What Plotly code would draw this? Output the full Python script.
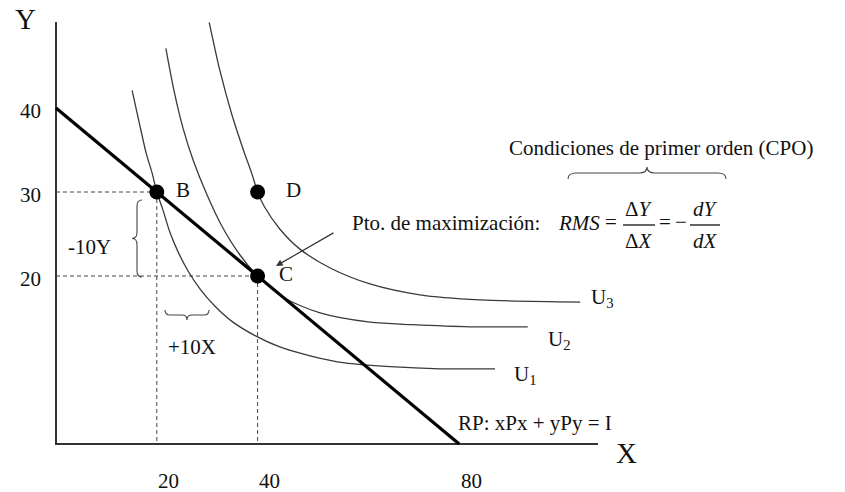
import plotly.graph_objects as go

# ---------------------------------------------------------------------------
# Data (units of good X and good Y)
# ---------------------------------------------------------------------------
# Budget line RP: xPx + yPy = I, drawn through its two intercepts
budget_x = [0, 80]
budget_y = [40, 0]

# Indifference curves U1 < U2 < U3
u1_x = [15.1, 16.5, 17.9, 19.05, 20.0, 21.2, 22.6, 24.2, 26.2, 28.6, 31.55, 34.9, 39.5,
        44.4, 50.4, 57.3, 66.3, 76.2, 87.1]
u1_y = [42.1, 38.3, 34.6, 32.3, 30.0, 27.9, 25.2, 22.9, 20.6, 18.45, 16.4, 14.6, 12.9,
        11.55, 10.5, 9.65, 9.2, 8.95, 8.95]

u2_x = [21.8, 23.4, 25.2, 27.2, 30.0, 32.9, 36.5, 40.0, 45.0, 52.4, 62.3, 70.8, 82.1, 93.6]
u2_y = [47.1, 42.1, 37.6, 33.8, 29.6, 25.95, 22.5, 20.0, 17.5, 15.6, 14.5, 14.2, 13.95, 13.95]

u3_x = [30.4, 32.5, 34.9, 37.3, 38.9, 40.0, 41.3, 44.4, 48.4, 54.4, 62.3, 72.2, 84.1, 104.0]
u3_y = [50.2, 44.5, 39.2, 34.8, 32.1, 30.0, 28.3, 25.6, 23.2, 20.95, 19.05, 17.75, 17.15, 16.9]

curve_names = ["U<sub>1</sub>", "U<sub>2</sub>", "U<sub>3</sub>"]

# Highlighted bundles
point_names = ["B", "C", "D"]
point_x = [20, 40, 40]
point_y = [30, 20, 30]

# Axis tick labels
x_ticks = [20, 40, 80]
y_ticks = [40, 30, 20]

# ---------------------------------------------------------------------------
# Canvas geometry: the plot fills the whole page, origin placed at (56, 444) px
# ---------------------------------------------------------------------------
W, H = 845, 492
OX, OY = 56, 444          # pixel position of the origin
SX, SY = 5.04, 8.4        # pixels per unit on x and y

X_RANGE = [-OX / SX, (W - OX) / SX]
Y_RANGE = [(OY - H) / SY, OY / SY]


def to_data(px, py):
    """Pixel position on the canvas -> data coordinates."""
    return (px - OX) / SX, (OY - py) / SY


FONT = "Liberation Serif, Times New Roman, serif"
INK = "#111111"
LINE = "#3a3a3a"

fig = go.Figure()

# Axes drawn as plain lines from the origin
x_end, _ = to_data(598, OY)
_, y_end = to_data(OX, 22)
fig.add_trace(go.Scatter(x=[0, 0, x_end], y=[y_end, 0, 0], mode="lines",
                         line=dict(color="#333333", width=2), hoverinfo="skip"))

# Dashed guide lines from bundles B and C to the axes
for i in (0, 1):
    px_, py_ = point_x[i], point_y[i]
    fig.add_trace(go.Scatter(x=[0, px_], y=[py_, py_], mode="lines",
                             line=dict(color="#444444", width=1, dash="4px,3px"),
                             hoverinfo="skip"))
    fig.add_trace(go.Scatter(x=[px_, px_], y=[py_, 0], mode="lines",
                             line=dict(color="#444444", width=1, dash="4px,3px"),
                             hoverinfo="skip"))

# Indifference curves
curves = [(u1_x, u1_y), (u2_x, u2_y), (u3_x, u3_y)]
for cx, cy in curves:
    fig.add_trace(go.Scatter(x=cx, y=cy, mode="lines",
                             line=dict(color=LINE, width=1.3, shape="spline", smoothing=0.8),
                             hoverinfo="skip"))

# Budget line
fig.add_trace(go.Scatter(x=budget_x, y=budget_y, mode="lines",
                         line=dict(color="#000000", width=3.2), hoverinfo="skip"))

# Bundles
fig.add_trace(go.Scatter(x=point_x, y=point_y, mode="markers",
                         marker=dict(color="#000000", size=15), hoverinfo="skip"))

annotations = []


def text(x, y, s, size=21, xanchor="center", yanchor="middle", xshift=0, yshift=0):
    annotations.append(dict(x=x, y=y, xref="x", yref="y", text=s, showarrow=False,
                            xanchor=xanchor, yanchor=yanchor, xshift=xshift, yshift=yshift,
                            font=dict(family=FONT, size=size, color=INK)))


def text_px(px, py, s, size=21, xanchor="center"):
    x, y = to_data(px, py)
    text(x, y, s, size=size, xanchor=xanchor)


# Tick labels
for v in y_ticks:
    text(0, v, str(v), xshift=-26, yshift=-3)
for v in x_ticks:
    text(v, 0, str(v), xshift=12, yshift=-37)

# Axis titles
text_px(25, 19, "Y", size=29)
text_px(626, 453, "X", size=29)

# Bundle labels
label_shift = [26, 28, 36]
for name, x, y, dx in zip(point_names, point_x, point_y, label_shift):
    text(x, y, name, xshift=dx, yshift=2)

# Curve labels at the right end of each curve
curve_label_shift = [(31, -6), (32, -13), (22, 4)]
for name, (cx, cy), (dx, dy) in zip(curve_names, curves, curve_label_shift):
    text(cx[-1], cy[-1], name, xshift=dx, yshift=dy)

# Budget line label
text_px(456, 423, "RP: xPx + yPy = I", xanchor="left")

# Changes between B and C
text_px(89, 247, "-10Y")
text_px(192, 347, "+10X")

# Optimum and first order conditions
text_px(446, 223, "Pto. de maximización:")
text_px(661, 148, "Condiciones de primer orden (CPO)")
text_px(579, 223, "<i>RMS</i>")
text_px(611, 222, "=")
text_px(639, 209, "Δ<i>Y</i>")
text_px(639, 241, "Δ<i>X</i>")
text_px(665, 222, "=")
text_px(681, 222, "−")
text_px(705, 209, "<i>dY</i>")
text_px(705, 241, "<i>dX</i>")

# Arrow pointing at the optimum C
hx, hy = to_data(276, 266)
annotations.append(dict(x=hx, y=hy, xref="x", yref="y", text="", showarrow=True,
                        ax=59, ay=-34, axref="pixel", ayref="pixel",
                        arrowhead=2, arrowsize=1.1, arrowwidth=1.2, arrowcolor="#333333"))

shapes = []


def path_px(cmds):
    """Build an SVG path in data units from (command, [(px, py), ...]) pairs."""
    out = []
    for cmd, pts in cmds:
        coords = " ".join("%.4f,%.4f" % to_data(px, py) for px, py in pts)
        out.append(cmd + " " + coords)
    return " ".join(out)


def brace_h(x0, x1, yb, yf, yt, r):
    xm = (x0 + x1) / 2
    return path_px([
        ("M", [(x0, yb)]),
        ("Q", [(x0, yf), (x0 + r, yf)]),
        ("L", [(xm - r, yf)]),
        ("Q", [(xm, yf), (xm, yt)]),
        ("Q", [(xm, yf), (xm + r, yf)]),
        ("L", [(x1 - r, yf)]),
        ("Q", [(x1, yf), (x1, yb)]),
    ])


def brace_v(y0, y1, xb, xf, xt, r):
    ym = (y0 + y1) / 2
    return path_px([
        ("M", [(xb, y0)]),
        ("Q", [(xf, y0), (xf, y0 + r)]),
        ("L", [(xf, ym - r)]),
        ("Q", [(xf, ym), (xt, ym)]),
        ("Q", [(xf, ym), (xf, ym + r)]),
        ("L", [(xf, y1 - r)]),
        ("Q", [(xf, y1), (xb, y1)]),
    ])


brace_style = dict(type="path", xref="x", yref="y", line=dict(color="#444444", width=1.1))
shapes.append(dict(path=brace_h(568, 726, 179, 173, 167, 8), **brace_style))
shapes.append(dict(path=brace_h(165, 209, 310, 315, 320, 5), **brace_style))
shapes.append(dict(path=brace_v(200, 277, 142, 137, 132, 6), **brace_style))

# Fraction bars
for x0, x1 in ((623, 655), (690, 720)):
    a = to_data(x0, 225)
    b = to_data(x1, 225)
    shapes.append(dict(type="line", xref="x", yref="y", x0=a[0], y0=a[1], x1=b[0], y1=b[1],
                       line=dict(color=INK, width=1.3)))

fig.update_layout(
    width=W, height=H,
    margin=dict(l=0, r=0, t=0, b=0),
    paper_bgcolor="white", plot_bgcolor="white",
    showlegend=False,
    xaxis=dict(range=X_RANGE, visible=False, fixedrange=True),
    yaxis=dict(range=Y_RANGE, visible=False, fixedrange=True),
    annotations=annotations,
    shapes=shapes,
)

fig.write_html("out.html")
